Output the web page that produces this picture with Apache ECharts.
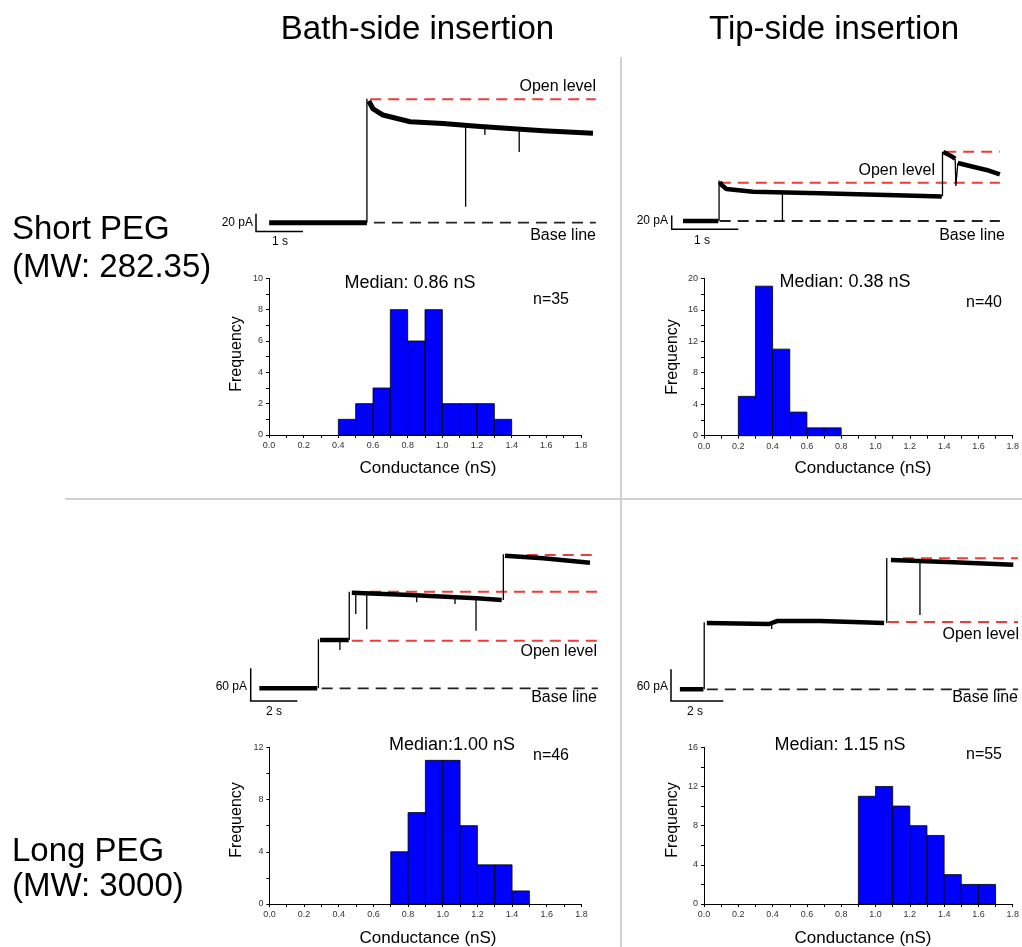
<!DOCTYPE html>
<html><head><meta charset="utf-8">
<script src="https://cdn.jsdelivr.net/npm/echarts@6/dist/echarts.min.js"></script>
<style>html,body{margin:0;padding:0;background:#fff}#c{width:1022px;height:947px}</style>
</head><body><div id="c"></div>
<script>
// ================= DATA =================
// Histograms: bin start (nS), bin width 0.1 nS, counts
const binWidth = 0.1;
const histBathShortBins   = [0.4,0.5,0.6,0.7,0.8,0.9,1.0,1.1,1.2,1.3];
const histBathShortCounts = [1,2,3,8,6,8,2,2,2,1];
const histTipShortBins    = [0.2,0.3,0.4,0.5,0.6,0.7];
const histTipShortCounts  = [5,19,11,3,1,1];
const histBathLongBins    = [0.7,0.8,0.9,1.0,1.1,1.2,1.3,1.4];
const histBathLongCounts  = [4,7,11,11,6,3,3,1];
const histTipLongBins     = [0.9,1.0,1.1,1.2,1.3,1.4,1.5,1.6];
const histTipLongCounts   = [11,12,10,8,7,3,2,2];
const histYMax  = [10,20,12,16];
const histYStep = [2,4,4,4];
const histXMax = 1.8, histXStep = 0.2;
const histMedians = ['Median: 0.86 nS','Median: 0.38 nS','Median:1.00 nS','Median: 1.15 nS'];
const histN = ['n=35','n=40','n=46','n=55'];

// Current traces: [time (s), current (pA)]
// Bath-side, short PEG
const bsThick = [
  [[0.28,0],[2.36,0]],
  [[2.40,137.5],[2.49,128.5],[2.70,121.7],[3.28,114.1],[3.98,112.1],[4.70,108.9],[5.40,106.4],[6.11,104.0],[7.17,101.0]]
];
const bsThin = [
  [[2.36,0],[2.36,140]],
  [[4.46,111],[4.46,18]],
  [[4.87,108],[4.87,99]],
  [[5.60,106],[5.60,80]]
];
const bsOpen = [[139.4,2.43,7.23]];   // [level, t start, t end]
const bsBase = [[0,2.51,7.23]];
const bsScale = [0,-10,1,20];          // t0, I0, seconds, pA
const bsScaleText = ['20 pA','1 s'];

// Tip-side, short PEG
const tsThick = [
  [[0.17,0],[0.70,0]],
  [[0.72,57],[0.75,52.6],[0.82,46.7],[1.22,42.8],[2.22,40.4],[3.22,38],[4.05,35.8]],
  [[4.07,100.7],[4.13,98],[4.22,93],[4.25,91]],
  [[4.29,84.7],[4.47,80.3],[4.72,74.5],[4.92,67.9]]
];
const tsThin = [
  [[0.71,0],[0.71,59]],
  [[1.66,41.5],[1.66,-1]],
  [[4.06,36],[4.06,101]],
  [[4.25,91],[4.26,51],[4.29,84.7]]
];
const tsOpen = [[55.9,0.72,4.92],[101.2,4.10,4.92]];
const tsBase = [[0,0.72,4.92]];
const tsScale = [0,-12,1,20];
const tsScaleText = ['20 pA','1 s'];

// Bath-side, long PEG
const blThick = [
  [[0.37,0],[2.85,0]],
  [[2.97,88.6],[4.20,88.6]],
  [[4.33,175.4],[6.82,171.2],[9.68,165.1],[10.75,162]],
  [[10.89,243.3],[12.52,238.5],[14.53,230.5]]
];
const blThin = [
  [[2.90,0],[2.90,90]],
  [[3.82,88],[3.82,70.3]],
  [[4.22,88.6],[4.22,177]],
  [[4.50,175],[4.50,136.3]],
  [[4.97,174],[4.97,108.3]],
  [[7.11,170.5],[7.11,158]],
  [[8.75,167.5],[8.75,154.7]],
  [[9.65,165],[9.65,105.7]],
  [[10.82,162],[10.82,246]]
];
const blOpen = [[87.3,4.33,14.89],[177.2,5.11,14.87],[244.6,11.82,14.87]];
const blBase = [[0,3.04,14.87]];
const blScale = [0,-23.3,2,60];
const blScaleText = ['60 pA','2 s'];

// Tip-side, long PEG
const tlThick = [
  [[0.34,0],[1.24,0]],
  [[1.37,125.6],[3.75,123.7],[4.05,129.2],[5.70,129.4],[6.96,127.5],[8.15,125.6]],
  [[8.41,244.9],[10.80,240.5],[13.09,236]]
];
const tlThin = [
  [[1.27,0],[1.27,127]],
  [[3.85,124],[3.85,114.2]],
  [[8.25,125.6],[8.25,248.7]],
  [[9.52,243],[9.52,140.7]]
];
const tlOpen = [[248.1,8.87,13.27],[127.5,8.30,13.27]];
const tlBase = [[0,1.37,13.27]];
const tlScale = [0,-22,2,60];
const tlScaleText = ['60 pA','2 s'];

// ================= LAYOUT / BUILD =================
const FONT = '"Liberation Sans", Arial, sans-serif';
const grids=[], xAxes=[], yAxes=[], series=[], graphics=[];

function txt(x,y,text,size,align,rot,color){
  return {type:'text', x:x, y:y, rotation:rot||0, silent:true, z:10,
    style:{text:text, font:size+'px '+FONT, fill:color||'#000',
      align:align||'center', textAlign:align||'center', verticalAlign:'middle', textVerticalAlign:'middle'}};
}

function addTrace(L, thick, thin, open, base, scale, lw){
  const gi = grids.length;
  const [l,t,r,b] = L.box;
  grids.push({left:l, top:t, width:r-l, height:b-t});
  xAxes.push({type:'value', gridIndex:gi, show:false, min:(l-L.x0)/L.pxS, max:(r-L.x0)/L.pxS, splitLine:{show:false}});
  yAxes.push({type:'value', gridIndex:gi, show:false, min:(L.y0-b)/L.pxA, max:(L.y0-t)/L.pxA, splitLine:{show:false}});
  const common = {type:'lines', coordinateSystem:'cartesian2d', xAxisIndex:gi, yAxisIndex:gi, polyline:true, silent:true, animation:false};
  series.push(Object.assign({}, common, {
    data: open.map(o=>({coords:[[o[1],o[0]],[o[2],o[0]]]})),
    lineStyle:{color:'#ee3b3b', width:2, type:[11,7], opacity:1}, z:2}));
  series.push(Object.assign({}, common, {
    data: base.map(o=>({coords:[[o[1],o[0]],[o[2],o[0]]]})),
    lineStyle:{color:'#222', width:1.8, type:[11,7], opacity:1}, z:2}));
  series.push(Object.assign({}, common, {
    data: thin.map(c=>({coords:c})),
    lineStyle:{color:'#000', width:1.3, opacity:1}, z:3}));
  series.push(Object.assign({}, common, {
    data: thick.map(c=>({coords:c})),
    lineStyle:{color:'#000', width:lw, opacity:1, join:'round'}, z:4}));
  series.push(Object.assign({}, common, {
    data: [{coords:[[scale[0],scale[1]+scale[3]],[scale[0],scale[1]],[scale[0]+scale[2],scale[1]]]}],
    lineStyle:{color:'#000', width:1.5, opacity:1}, z:4}));
}

function renderBar(params, api){
  const p0 = api.coord([api.value(0), api.value(2)]);
  const p1 = api.coord([api.value(1), 0]);
  return {type:'rect', shape:{x:p0[0], y:p0[1], width:p1[0]-p0[0], height:p1[1]-p0[1]},
    style:{fill:'#0000ff', stroke:'#000', lineWidth:0.8}};
}

function addHist(box, bins, counts, ymax, ystep){
  const gi = grids.length;
  grids.push({left:box[0], top:box[1], width:box[2], height:box[3]});
  const axisCommon = {
    axisLine:{show:true, onZero:false, lineStyle:{color:'#000', width:1}},
    axisTick:{show:true, length:3, lineStyle:{color:'#000', width:1}},
    minorTick:{show:true, splitNumber:2, length:3, lineStyle:{color:'#000', width:1}},
    splitLine:{show:false}, minorSplitLine:{show:false}
  };
  xAxes.push(Object.assign({type:'value', gridIndex:gi, min:0, max:histXMax, interval:histXStep,
    axisLabel:{fontSize:9, color:'#333', margin:6, fontFamily:FONT, formatter:v=>v.toFixed(1)}}, axisCommon));
  yAxes.push(Object.assign({type:'value', gridIndex:gi, min:0, max:ymax, interval:ystep,
    axisLabel:{fontSize:9, color:'#333', margin:6, fontFamily:FONT}}, axisCommon));
  series.push({type:'custom', xAxisIndex:gi, yAxisIndex:gi, silent:true, animation:false,
    data: bins.map((b,i)=>[b, b+binWidth, counts[i]]),
    encode:{x:[0,1], y:2}, renderItem:renderBar, z:3});
}

// traces
addTrace({x0:256,   y0:222.7, pxS:47,    pxA:0.885, box:[240,75,605,245]},  bsThick, bsThin, bsOpen, bsBase, bsScale, 5);
addTrace({x0:671.7, y0:221,   pxS:66.7,  pxA:0.685, box:[655,135,1012,245]}, tsThick, tsThin, tsOpen, tsBase, tsScale, 4.5);
addTrace({x0:250.7, y0:688.3, pxS:23.35, pxA:0.545, box:[235,535,605,715]}, blThick, blThin, blOpen, blBase, blScale, 4.5);
addTrace({x0:671,   y0:689.3, pxS:26.15, pxA:0.528, box:[655,535,1020,715]}, tlThick, tlThin, tlOpen, tlBase, tlScale, 4.5);

// histograms
addHist([269,278.3,312,156.7], histBathShortBins, histBathShortCounts, histYMax[0], histYStep[0]);
addHist([704,278.3,310,157.4], histTipShortBins,  histTipShortCounts,  histYMax[1], histYStep[1]);
addHist([269.4,747.3,312,156.7], histBathLongBins, histBathLongCounts, histYMax[2], histYStep[2]);
addHist([704,747.3,310,156.7], histTipLongBins,   histTipLongCounts,   histYMax[3], histYStep[3]);

// dividers
graphics.push({type:'line', silent:true, shape:{x1:621,y1:57,x2:621,y2:947}, style:{stroke:'#d0d0d0', lineWidth:2}});
graphics.push({type:'line', silent:true, shape:{x1:65,y1:499,x2:1022,y2:499}, style:{stroke:'#d0d0d0', lineWidth:2}});

// headings
graphics.push(txt(417.5,30,'Bath-side insertion',33));
graphics.push(txt(834,30,'Tip-side insertion',33));
graphics.push(txt(12,230,'Short PEG',33,'left'));
graphics.push(txt(12,268,'(MW: 282.35)',33,'left'));
graphics.push(txt(12,852,'Long PEG',33,'left'));
graphics.push(txt(12,887,'(MW: 3000)',33,'left'));

// trace annotations
graphics.push(txt(596,87,'Open level',16,'right'));
graphics.push(txt(596,236,'Base line',16,'right'));
graphics.push(txt(253,223,bsScaleText[0],12,'right'));
graphics.push(txt(280,242,bsScaleText[1],12));
graphics.push(txt(935,171,'Open level',16,'right'));
graphics.push(txt(1005,236,'Base line',16,'right'));
graphics.push(txt(668,221,tsScaleText[0],12,'right'));
graphics.push(txt(702,241,tsScaleText[1],12));
graphics.push(txt(597,652,'Open level',16,'right'));
graphics.push(txt(597,698,'Base line',16,'right'));
graphics.push(txt(247,687,blScaleText[0],12,'right'));
graphics.push(txt(274,712,blScaleText[1],12));
graphics.push(txt(1019,635,'Open level',16,'right'));
graphics.push(txt(1018,698,'Base line',16,'right'));
graphics.push(txt(668,687,tlScaleText[0],12,'right'));
graphics.push(txt(695,712,tlScaleText[1],12));

// histogram annotations
const medPos = [[410,283],[845,282],[452,745],[840,745]];
const nPos   = [[551,300],[984,303],[551,756],[984,755]];
const freqPos= [[237,354],[673,357],[237,820],[673,820]];
const condPos= [[428,468],[863,468],[428,938],[863,938]];
for (let i=0;i<4;i++){
  graphics.push(txt(medPos[i][0],medPos[i][1],histMedians[i],18));
  graphics.push(txt(nPos[i][0],nPos[i][1],histN[i],16));
  graphics.push(txt(freqPos[i][0],freqPos[i][1],'Frequency',16,'center',Math.PI/2));
  graphics.push(txt(condPos[i][0],condPos[i][1],'Conductance (nS)',17));
}

const chart = echarts.init(document.getElementById('c'), null, {renderer:'canvas'});
chart.setOption({
  animation:false,
  backgroundColor:'#fff',
  textStyle:{fontFamily:FONT},
  grid:grids, xAxis:xAxes, yAxis:yAxes, series:series, graphic:graphics
});
</script>
</body></html>
